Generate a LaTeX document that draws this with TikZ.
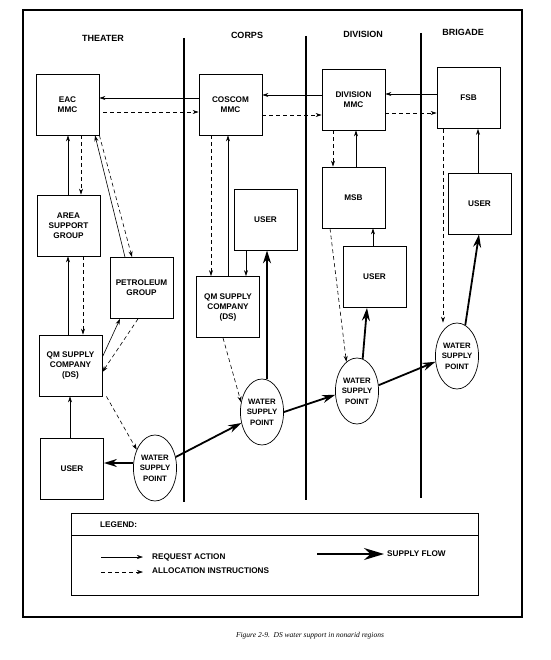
\documentclass[tikz,border=0pt]{standalone}
\usepackage{fontspec}
\setmainfont{Liberation Sans}
\newfontfamily\capfont{Liberation Serif}
\usetikzlibrary{shapes.geometric,arrows.meta}
\begin{document}
\begin{tikzpicture}[x=1pt,y=-1pt,
  box/.style={draw,line width=0.8pt,minimum width=63pt,minimum height=61pt,inner sep=0pt,align=center,font=\fontsize{8.2}{10}\selectfont\bfseries},
  wsp/.style={draw,ellipse,line width=0.7pt,minimum width=43pt,minimum height=66pt,inner sep=0pt,align=center,font=\fontsize{7.8}{10.5}\selectfont\bfseries},
  hdr/.style={font=\fontsize{9}{11}\selectfont\bfseries,inner sep=0pt},
  lgd/.style={font=\fontsize{8.2}{10}\selectfont\bfseries,inner sep=0pt,anchor=west},
  req/.style={line width=0.6pt,-{Stealth[length=6pt,width=4pt]}},
  alloc/.style={req,dash pattern=on 4pt off 3pt},
  sup/.style={line width=1.8pt,-{Stealth[length=13pt,width=8pt]}},
  divider/.style={line width=1.6pt}
]
\useasboundingbox (0,0) rectangle (550,660);
% frame
\draw[line width=1.8pt] (23,10) rectangle (522,617);
% column dividers
\draw[divider] (184,38) -- (184,502);
\draw[divider] (306,36) -- (306,500);
\draw[divider] (421,33) -- (421,498);
% headers
\node[hdr] (hT) at (103,38) {THEATER};
\node[hdr] (hC) at (247,35) {CORPS};
\node[hdr] (hD) at (363,34) {DIVISION};
\node[hdr] (hB) at (463,32) {BRIGADE};
% boxes
\node[box] (EAC) at (67.5,104.5) {EAC\\MMC};
\node[box] (COSCOM) at (230.5,104.5) {COSCOM\\MMC};
\node[box] (DIVMMC) at (353.5,99.5) {DIVISION\\MMC};
\node[box] (FSB) at (468.5,98) {FSB};
\node[box] (ASG) at (68.5,225.5) {AREA\\SUPPORT\\GROUP};
\node[box] (PET) at (141.5,288) {PETROLEUM\\GROUP};
\node[box] (QMT) at (70.5,365.5) {QM SUPPLY\\COMPANY\\(DS)};
\node[box] (USERT) at (72,469) {USER};
\node[box] (USERC) at (265.5,219.5) {USER};
\node[box] (QMC) at (228,307) {QM SUPPLY\\COMPANY\\(DS)};
\node[box] (MSB) at (353.5,197.5) {MSB};
\node[box] (USERD) at (374.5,277) {USER};
\node[box] (USERB) at (479.5,203.5) {USER};
% water supply points
\node[wsp] (WSPT) at (155,468) {WATER\\SUPPLY\\POINT};
\node[wsp] (WSPC) at (262,412) {WATER\\SUPPLY\\POINT};
\node[wsp] (WSPD) at (357,391) {WATER\\SUPPLY\\POINT};
\node[wsp] (WSPB) at (457,356) {WATER\\SUPPLY\\POINT};
% top-level horizontal links
\draw[req] (COSCOM.west |- 0,98) -- (EAC.east |- 0,98);
\draw[alloc] ([xshift=4pt]EAC.east |- 0,112) -- (COSCOM.west |- 0,112);
\draw[req] (DIVMMC.west |- 0,95) -- (COSCOM.east |- 0,95);
\draw[alloc] (COSCOM.east |- 0,115) -- (DIVMMC.west |- 0,115);
\draw[req] (FSB.west |- 0,94) -- (DIVMMC.east |- 0,94);
\draw[alloc] (DIVMMC.east |- 0,113) -- (FSB.west |- 0,113);
% theater
\draw[req] (ASG.north -| 68,0) -- (EAC.south -| 68,0);
\draw[alloc] (EAC.south -| 81,0) -- (ASG.north -| 81,0);
\draw[req] (PET.north -| 125,0) -- (EAC.south -| 95,0);
\draw[alloc] (EAC.south east) -- (PET.north -| 132,0);
\draw[req] (QMT.north -| 68,0) -- (ASG.south -| 68,0);
\draw[alloc] (ASG.south -| 83,0) -- (QMT.north -| 83,0);
\draw[req] (QMT.east |- 0,357) -- (PET.south -| 120,0);
\draw[alloc] (PET.south -| 138,0) -- (QMT.east |- 0,372);
\draw[req] (USERT.north -| 70,0) -- (QMT.south -| 70,0);
\draw[alloc] ([xshift=4pt]QMT.south east) -- (WSPT.135);
\draw[sup] (WSPT.west |- 0,463) -- (USERT.east |- 0,463);
\draw[sup] (WSPT.28) -- (WSPC.208);
% corps
\draw[alloc] (COSCOM.south -| 211,0) -- (QMC.north -| 211,0);
\draw[req] (QMC.north -| 228,0) -- (COSCOM.south -| 228,0);
\draw[req] (USERC.south -| 246,0) -- (QMC.north -| 246,0);
\draw[sup] (WSPC.north -| 267,0) -- (USERC.south -| 267,0);
\draw[alloc] (QMC.south -| 223,0) -- (WSPC.155);
\draw[sup] (WSPC.east) -- (WSPD.190);
% division
\draw[alloc] (DIVMMC.south -| 333,0) -- (MSB.north -| 333,0);
\draw[req] (MSB.north -| 356,0) -- (DIVMMC.south -| 356,0);
\draw[req] (USERD.north -| 373,0) -- (MSB.south -| 373,0);
\draw[alloc] (MSB.south -| 330,0) -- (WSPD.110);
\draw[sup] (WSPD.80) -- (USERD.south -| 367,0);
\draw[sup] (WSPD.15) -- (WSPB.195);
% brigade
\draw[alloc] (FSB.south -| 443,0) -- (WSPB.north -| 443,0);
\draw[req] (USERB.north -| 478,0) -- (FSB.south -| 478,0);
\draw[sup] (WSPB.75) -- (USERB.south -| 479,0);
% legend
\draw[line width=0.8pt] (71,513) rectangle (478,595);
\draw[line width=0.8pt] (71,535) -- (478,535);
\node[lgd] (lg) at (100,525) {LEGEND:};
\coordinate (r1) at (101,557);
\coordinate (r2) at (143,557);
\draw[req] (r1) -- (r2);
\node[lgd] (lr) at (152,557) {REQUEST ACTION};
\coordinate (a1) at (101,572);
\coordinate (a2) at (143,572);
\draw[alloc] (a1) -- (a2);
\node[lgd] (la) at (152,571) {ALLOCATION INSTRUCTIONS};
\coordinate (s1) at (317,554);
\coordinate (s2) at (384,554);
\draw[line width=1.8pt,-{Stealth[length=20pt,width=12pt]}] (s1) -- (s2);
\node[lgd] (ls) at (387,554) {SUPPLY FLOW};
% caption
\node[font=\capfont\itshape\fontsize{7.5}{9}\selectfont,inner sep=0pt] (cap) at (310,636) {Figure 2-9.\ \ DS water support in nonarid regions};
\end{tikzpicture}
\end{document}
